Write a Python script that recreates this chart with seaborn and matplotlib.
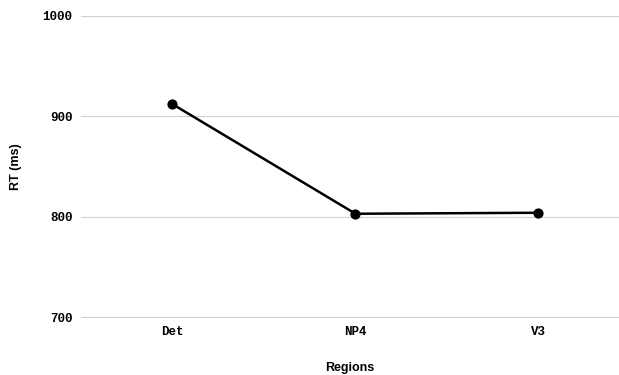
import pandas as pd
import matplotlib
matplotlib.use('Agg')
import matplotlib.pyplot as plt
import seaborn as sns

# datos
regions = ['Det', 'NP4', 'V3']
rt = [912, 803, 804]

df = pd.DataFrame({'Regions': regions, 'RT': rt})

sns.set_style('white')
fig = plt.figure(figsize=(6.19, 3.75), dpi=100)
ax = fig.add_axes([81/619, 1-318/375, (619-81)/619, (318-15)/375])

sns.pointplot(data=df, x='Regions', y='RT', color='black', ax=ax,
              markers='o', markersize=6, linewidth=1.8)

ax.set_ylim(699.3, 1000.7)
ax.set_yticks([700, 800, 900, 1000])
ax.set_xlim(-0.5, 2.44)
ax.grid(axis='y', color='#d0d0d0', linewidth=0.8)
ax.set_axisbelow(True)
for s in ax.spines.values():
    s.set_visible(False)
ax.tick_params(length=0, pad=6, labelcolor='black')
for lab in ax.get_xticklabels() + ax.get_yticklabels():
    lab.set_family('Liberation Mono')
    lab.set_fontweight('bold')
    lab.set_fontsize(9)

ax.set_xlabel('Regions', family='Liberation Sans', fontweight='bold', fontsize=9,
              labelpad=17, color='black')
ax.set_ylabel('RT (ms)', family='Liberation Sans', fontweight='bold', fontsize=9,
              labelpad=15, color='black')

fig.savefig('out.png', dpi=100)
